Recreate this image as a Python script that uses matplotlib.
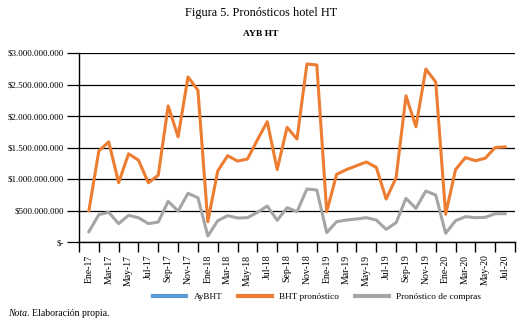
import matplotlib
matplotlib.use("Agg")
import matplotlib.pyplot as plt
from matplotlib.ticker import FuncFormatter

months = ["Ene", "Feb", "Mar", "Abr", "May", "Jun", "Jul", "Ago", "Sep", "Oct", "Nov", "Dic"]
categories = [f"{m}-{y}" for y in ["17", "18", "19", "20"] for m in months][:43]

aybht = []  # not visible in the reference

bht_pronostico = [
    500e6, 1444e6, 1590e6, 941e6, 1400e6, 1300e6, 940e6, 1060e6, 2160e6, 1670e6, 2620e6, 2410e6,
    322e6, 1127e6, 1370e6, 1285e6, 1317e6, 1620e6, 1910e6, 1150e6, 1820e6, 1635e6, 2825e6, 2810e6,
    481e6, 1074e6, 1150e6, 1210e6, 1270e6, 1185e6, 682e6, 1020e6, 2320e6, 1830e6, 2745e6, 2540e6,
    440e6, 1150e6, 1340e6, 1290e6, 1330e6, 1500e6, 1510e6,
]

pronostico_compras = [
    164e6, 434e6, 471e6, 291e6, 423e6, 386e6, 291e6, 317e6, 645e6, 492e6, 772e6, 703e6,
    95e6, 338e6, 418e6, 381e6, 386e6, 471e6, 571e6, 344e6, 545e6, 481e6, 841e6, 825e6,
    148e6, 322e6, 349e6, 365e6, 386e6, 349e6, 201e6, 306e6, 693e6, 534e6, 809e6, 746e6,
    138e6, 338e6, 402e6, 386e6, 391e6, 450e6, 450e6,
]

yticks = [0, 500e6, 1000e6, 1500e6, 2000e6, 2500e6, 3000e6]

plt.rcParams["font.family"] = ["Liberation Serif", "DejaVu Serif"]

fig = plt.figure(figsize=(5.24, 3.27), dpi=100)
ax = fig.add_axes([79 / 524, 1 - 242 / 327, (515 - 79) / 524, (242 - 53) / 327])

x = list(range(len(categories)))
ax.plot(aybht, aybht, color="#5B9BD5", lw=2.2, label="AyBHT")
ax.plot(x, bht_pronostico, color="#ED7D31", lw=2.2, label="BHT pronóstico", solid_joinstyle="round")
ax.plot(x, pronostico_compras, color="#A5A5A5", lw=2.2, label="Pronóstico de compras", solid_joinstyle="round")

ax.set_xlim(-1, len(categories))
ax.set_ylim(0, 3000e6)

ax.set_yticks(yticks)
def fmt(v, pos):
    if v == 0:
        return "$-"
    return "$" + f"{int(v):,}".replace(",", ".")
ax.yaxis.set_major_formatter(FuncFormatter(fmt))
ax.grid(axis="y", color="black", lw=0.9)
ax.set_axisbelow(True)

# category labels at every 2nd month, tick marks between
ax.set_xticks(x[::2])
ax.set_xticklabels(categories[::2], rotation=90, fontsize=7)
ax.set_xticks([i - 1 for i in range(0, len(categories) + 2, 2)], minor=True)
ax.tick_params(axis="x", which="major", length=0, pad=9)
ax.tick_params(axis="x", which="minor", length=7, width=1, color="black", direction="out")
ax.tick_params(axis="y", length=9, width=0.9, color="black", labelsize=6.5, pad=2)

for s in ["top", "right"]:
    ax.spines[s].set_visible(False)
ax.spines["left"].set_color("black")
ax.spines["bottom"].set_color("black")
ax.spines["left"].set_linewidth(1)
ax.spines["bottom"].set_linewidth(1)

fig.text(261 / 524, 1 - 13 / 327, "Figura 5. Pronósticos hotel HT", ha="center", va="center", fontsize=8.8)
fig.text(261 / 524, 1 - 34 / 327, "AYB HT", ha="center", va="center", fontsize=6.8, fontweight="bold")

leg = fig.legend(loc="center", bbox_to_anchor=(317 / 524, 1 - 297 / 327), ncol=3, frameon=False,
                 fontsize=6.7, handlelength=3.6, handletextpad=0.8, columnspacing=1.7)
for line in leg.get_lines():
    line.set_linewidth(3)

fig.text(8 / 524, 1 - 314 / 327, "Nota", style="italic", ha="left", va="center", fontsize=7)
fig.text(27 / 524, 1 - 314 / 327, ". Elaboración propia.", ha="left", va="center", fontsize=7)

fig.savefig("out.png", dpi=100)
